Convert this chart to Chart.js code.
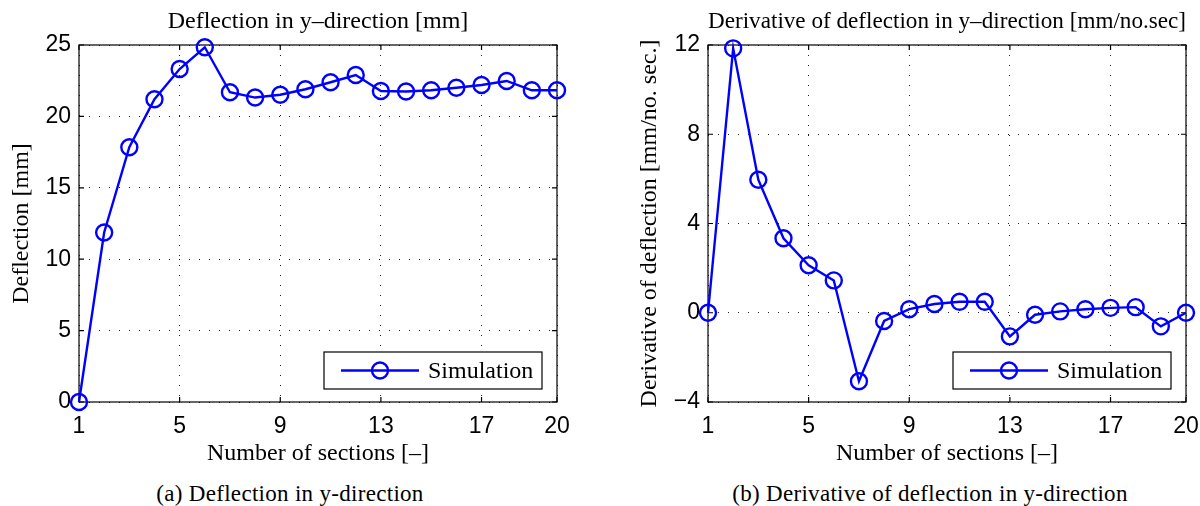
<!DOCTYPE html>
<html>
<head>
<meta charset="utf-8">
<script src="https://cdn.jsdelivr.net/npm/chart.js@4.4.1/dist/chart.umd.min.js"></script>
<style>
  html, body { margin: 0; padding: 0; background: #fff; }
  body { width: 1200px; height: 506px; position: relative; overflow: hidden; }
  .panel { position: absolute; top: 0; width: 600px; height: 475px; }
  .caption {
    position: absolute; top: 481px; width: 480px; text-align: center;
    font-family: "Liberation Serif", serif; font-size: 23px; line-height: 26px; color: #000;
    letter-spacing: 0.3px;
  }
</style>
</head>
<body>
<div class="panel" style="left:0"><canvas id="deflChart"></canvas></div>
<div class="panel" style="left:600px"><canvas id="derivChart"></canvas></div>
<div class="caption" style="left:50px">(a) Deflection in y-direction</div>
<div class="caption" style="left:690px">(b) Derivative of deflection in y-direction</div>
<script>
// section number along the structure
const sections = [1, 2, 3, 4, 5, 6, 7, 8, 9, 10, 11, 12, 13, 14, 15, 16, 17, 18, 19, 20];
// deflection in y-direction [mm]
const deflection = [0, 11.87, 17.84, 21.2, 23.32, 24.84, 21.69, 21.32, 21.52, 21.9,
                    22.39, 22.9, 21.78, 21.74, 21.83, 22.01, 22.2, 22.48, 21.83, 21.83];
// derivative of deflection [mm/no. sec.]
const derivative = [0, 11.85, 5.96, 3.34, 2.13, 1.45, -3.07, -0.37, 0.16, 0.39,
                    0.49, 0.49, -1.06, -0.09, 0.06, 0.16, 0.22, 0.25, -0.61, 0];

const xTicks = [1, 5, 9, 13, 17, 20];
const deflTicks = [0, 5, 10, 15, 20, 25];
const derivTicks = [-4, 0, 4, 8, 12];

Chart.defaults.font.family = '"Liberation Sans", Arial, sans-serif';
Chart.defaults.font.size = 23;
Chart.defaults.color = '#000';

const serif = { family: '"Liberation Serif", "Times New Roman", serif', size: 24, weight: 'normal' };

// box, inward ticks and the legend, drawn the way matlab does it
const matlabFrame = {
  id: 'matlabFrame',
  beforeDatasetsDraw(chart) {
    const { ctx, chartArea: a, scales: { x, y } } = chart;
    ctx.save();
    ctx.strokeStyle = '#000';
    ctx.lineWidth = 1.2;
    ctx.strokeRect(a.left, a.top, a.right - a.left, a.bottom - a.top);
    ctx.beginPath();
    x.ticks.forEach(t => {
      const px = x.getPixelForValue(t.value);
      ctx.moveTo(px, a.bottom); ctx.lineTo(px, a.bottom - 5);
      ctx.moveTo(px, a.top); ctx.lineTo(px, a.top + 5);
    });
    y.ticks.forEach(t => {
      const py = y.getPixelForValue(t.value);
      ctx.moveTo(a.left, py); ctx.lineTo(a.left + 5, py);
      ctx.moveTo(a.right, py); ctx.lineTo(a.right - 5, py);
    });
    ctx.stroke();
    ctx.restore();
  },
  afterDatasetsDraw(chart) {
    const { ctx, chartArea: a } = chart;
    const ds = chart.data.datasets[0];
    const w = 218, h = 37;
    const bx = a.right - 15 - w, by = a.bottom - 13 - h;
    const cy = by + h / 2;
    ctx.save();
    ctx.fillStyle = '#fff';
    ctx.fillRect(bx, by, w, h);
    ctx.strokeStyle = '#000';
    ctx.lineWidth = 1.2;
    ctx.strokeRect(bx, by, w, h);
    ctx.strokeStyle = ds.borderColor;
    ctx.lineWidth = ds.borderWidth;
    ctx.beginPath();
    ctx.moveTo(bx + 17, cy); ctx.lineTo(bx + 95, cy);
    ctx.stroke();
    ctx.beginPath();
    ctx.arc(bx + 56, cy, ds.pointRadius, 0, Math.PI * 2);
    ctx.stroke();
    ctx.fillStyle = '#000';
    ctx.font = '24px "Liberation Serif", serif';
    ctx.textBaseline = 'middle';
    ctx.fillText(ds.label, bx + 104, cy + 1);
    ctx.restore();
  }
};

function makeChart(id, values, yTicks, yTitle, chartTitle, yAxisWidth, yTitlePad, padRight) {
  return new Chart(document.getElementById(id), {
    type: 'line',
    data: {
      datasets: [{
        label: 'Simulation',
        data: sections.map((s, i) => ({ x: s, y: values[i] })),
        borderColor: '#0000ff',
        borderWidth: 2.4,
        pointRadius: 8,
        pointHoverRadius: 8,
        pointBorderWidth: 2.4,
        pointBorderColor: '#0000ff',
        pointBackgroundColor: 'rgba(0,0,0,0)',
        tension: 0,
        fill: false,
        clip: false
      }]
    },
    options: {
      responsive: true,
      maintainAspectRatio: false,
      animation: false,
      events: [],
      layout: { padding: { top: 0, left: 0, right: padRight, bottom: 0 } },
      scales: {
        x: {
          type: 'linear',
          min: 1,
          max: 20,
          afterBuildTicks: s => { s.ticks = xTicks.map(v => ({ value: v })); },
          ticks: { padding: 11, maxRotation: 0, autoSkip: false },
          grid: { color: '#222', lineWidth: 1, drawTicks: false },
          border: { display: false, dash: [1, 9] },
          title: { display: true, text: 'Number of sections [\u2013]', font: serif, padding: { top: 0, bottom: 6.6 } },
          afterFit: s => { s.height = 73; s.paddingLeft = 0; s.paddingRight = 0; }
        },
        y: {
          min: yTicks[0],
          max: yTicks[yTicks.length - 1],
          afterBuildTicks: s => { s.ticks = yTicks.map(v => ({ value: v })); },
          ticks: {
            padding: 8,
            callback: v => (v < 0 ? '\u2212' + Math.abs(v) : String(v))
          },
          grid: { color: '#222', lineWidth: 1, drawTicks: false },
          border: { display: false, dash: [1, 9] },
          title: { display: true, text: yTitle, font: serif, padding: { top: yTitlePad, bottom: 0 } },
          afterFit: s => { s.width = yAxisWidth; s.paddingTop = 0; s.paddingBottom = 0; }
        }
      },
      plugins: {
        legend: { display: false },
        tooltip: { enabled: false },
        title: {
          display: true,
          text: chartTitle,
          fullSize: false,
          font: serif,
          color: '#000',
          padding: { top: 7, bottom: 9.2 }
        }
      }
    },
    plugins: [matlabFrame]
  });
}

makeChart('deflChart', deflection, deflTicks, 'Deflection [mm]',
  'Deflection in y\u2013direction [mm]', 79, 7.6, 43);
makeChart('derivChart', derivative, derivTicks, 'Derivative of deflection [mm/no. sec.]',
  'Derivative of deflection in y\u2013direction [mm/no.sec]', 108, 35.6, 14);
</script>
</body>
</html>
